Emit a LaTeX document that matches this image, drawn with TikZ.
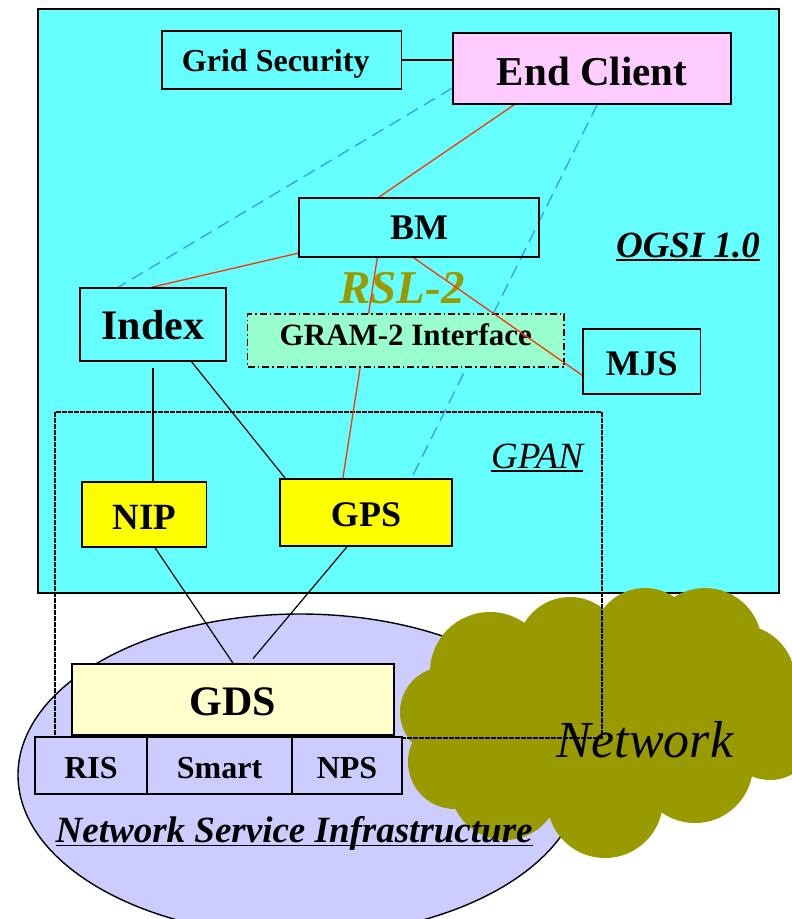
\documentclass[tikz,border=0pt]{standalone}
\usepackage{fontspec}
\setmainfont{Liberation Serif}
\usetikzlibrary{calc,backgrounds}

\definecolor{ogsicyan}{HTML}{66FFFF}
\definecolor{cloudolive}{HTML}{999900}
\definecolor{nsilav}{HTML}{CCCCFF}
\definecolor{clientpink}{HTML}{FFCCFF}
\definecolor{gramgreen}{HTML}{99FFCC}
\definecolor{gdsyellow}{HTML}{FFFFCC}
\definecolor{gpanyellow}{HTML}{FFFF00}
\definecolor{rslred}{HTML}{FF3300}
\definecolor{linkblue}{HTML}{3399FF}

\pgfdeclarelayer{links}
\pgfsetlayers{background,links,main}

\tikzset{
  box/.style={draw=black, line width=1.6pt, inner sep=0pt},
  bf/.style 2 args={font=\fontsize{#1pt}{#1pt}\selectfont\bfseries,
                    text height={(0.655*#1+#2)*1pt}, text depth=0pt},
  redlink/.style={draw=rslred, line width=1.3pt},
  bluelink/.style={draw=linkblue, line width=1.3pt, dash pattern=on 13pt off 7pt},
  blacklink/.style={draw=black, line width=1.2pt},
  caption/.style={inner sep=0pt, anchor=base},
  uline/.style={draw=black, line width=1.5pt},
}

\begin{document}
\begin{tikzpicture}[x=1pt,y=-1pt]
\useasboundingbox (0,0) rectangle (792,919);

% ---------- boxes ----------
\node[box, minimum width=239.5pt, minimum height=58pt, bf={32}{3}]
  (gridsec) at (281.75,60) {Grid Security\hspace*{12pt}};
\node[box, fill=clientpink, minimum width=278pt, minimum height=71pt, bf={41}{7}]
  (endclient) at (592,68.5) {End Client};
\node[box, minimum width=240pt, minimum height=59pt, bf={36}{1}]
  (bm) at (419,227.5) {BM};
\node[box, minimum width=146pt, minimum height=73pt, bf={42}{3}]
  (index) at (153,324.5) {Index};
\node[box, fill=gramgreen, line width=1.3pt,
      dash pattern=on 7pt off 3pt on 1.5pt off 3pt,
      minimum width=316.5pt, minimum height=53pt, bf={31}{-11}]
  (gram) at (405.75,340.5) {GRAM-2 Interface};
\node[box, minimum width=117.5pt, minimum height=65pt, bf={36}{5}]
  (mjs) at (641.75,361.5) {MJS};
\node[box, fill=gpanyellow, minimum width=124.5pt, minimum height=65pt, bf={37}{5}]
  (nip) at (144.25,514.5) {NIP};
\node[box, fill=gpanyellow, minimum width=172pt, minimum height=67pt, bf={36}{5}]
  (gps) at (366,512.5) {GPS};
\node[box, fill=gdsyellow, minimum width=322pt, minimum height=71pt, bf={42}{5}]
  (gds) at (233,699.5) {GDS};
\node[box, fill=nsilav, minimum width=112pt, minimum height=57pt, bf={32}{5}]
  (ris) at (91,765.5) {RIS};
\node[box, fill=nsilav, minimum width=145pt, minimum height=57pt, bf={32}{5}]
  (smart) at (219.5,765.5) {Smart};
\node[box, fill=nsilav, minimum width=110pt, minimum height=57pt, bf={32}{5}]
  (nps) at (347,765.5) {NPS};

% ---------- regions, cloud and their labels ----------
\begin{pgfonlayer}{background}
  % OGSI 1.0 area
  \draw[fill=ogsicyan, line width=1.6pt] (38,9) rectangle (779,593);
  % network service infrastructure
  \draw[fill=nsilav, line width=1.4pt] (300,775) ellipse [x radius=282, y radius=161];
  % network cloud
  \fill[cloudolive]
    (490,672) circle [radius=60]
    (570,650) circle [radius=53]
    (645,640) circle [radius=52]
    (705,645) circle [radius=57]
    (740,680) circle [radius=55]
    (770,735) circle [radius=45]
    (695,765) circle [radius=58]
    (605,800) circle [radius=58]
    (505,785) circle [radius=55]
    (455,762) circle [radius=47]
    (445,712) circle [radius=45]
    (600,715) ellipse [x radius=150, y radius=95];
  % GPAN area
  \draw[line width=1.2pt, dash pattern=on 5pt off 1pt] (55,412) rectangle (602,738);
  \node[caption, text=cloudolive, font=\fontsize{47pt}{47pt}\selectfont\bfseries\itshape]
    (rsl) at (402,303) {RSL-2};
\end{pgfonlayer}

\node[caption, font=\fontsize{37pt}{37pt}\selectfont\bfseries\itshape]
  (ogsilbl) at (688,257) {OGSI 1.0};
\draw[uline] ([yshift=-3pt]ogsilbl.base west) -- ([yshift=-3pt]ogsilbl.base east);

\node[caption, font=\fontsize{37pt}{37pt}\selectfont\itshape]
  (gpanlbl) at (537,468) {GPAN};
\draw[uline, line width=1.2pt] ([yshift=-3pt]gpanlbl.base west) -- ([yshift=-3pt]gpanlbl.base east);

\node[caption, font=\fontsize{52pt}{52pt}\selectfont\itshape]
  (netlbl) at (645,757) {Network};

\node[caption, anchor=base west, font=\fontsize{37pt}{37pt}\selectfont\bfseries\itshape]
  (nsilbl) at (55.5,842) {Network Service Infrastructure};
\draw[uline] ([yshift=-3.5pt]nsilbl.base west) -- ([yshift=-3.5pt]nsilbl.base east);

% ---------- connectors ----------
\begin{pgfonlayer}{links}
  \draw[blacklink] (gridsec.east) -- (gridsec.east -| endclient.west);
  \draw[bluelink] (endclient.188) -- (index.133);
  \draw[redlink] (endclient.205) -- (bm.143);
  \draw[redlink] (bm.192) -- (index.92);
  \draw[redlink] (bm.216) -- (gps.124);
  \draw[bluelink] (endclient.278) -- (gps.37);
  \draw[blacklink, shorten <=6pt] (index.south) -- (index.south |- nip.north);
  \draw[blacklink] (index.316) -- (gps.157);
  \draw[blacklink] (nip.288) -- (gds.north);
  \draw[blacklink, shorten >=6pt] (gps.241) -- (gds.66);
\end{pgfonlayer}
% the BM to MJS link runs across the GRAM-2 box
\draw[redlink] (bm.260) -- (mjs.193);

\end{tikzpicture}
\end{document}
